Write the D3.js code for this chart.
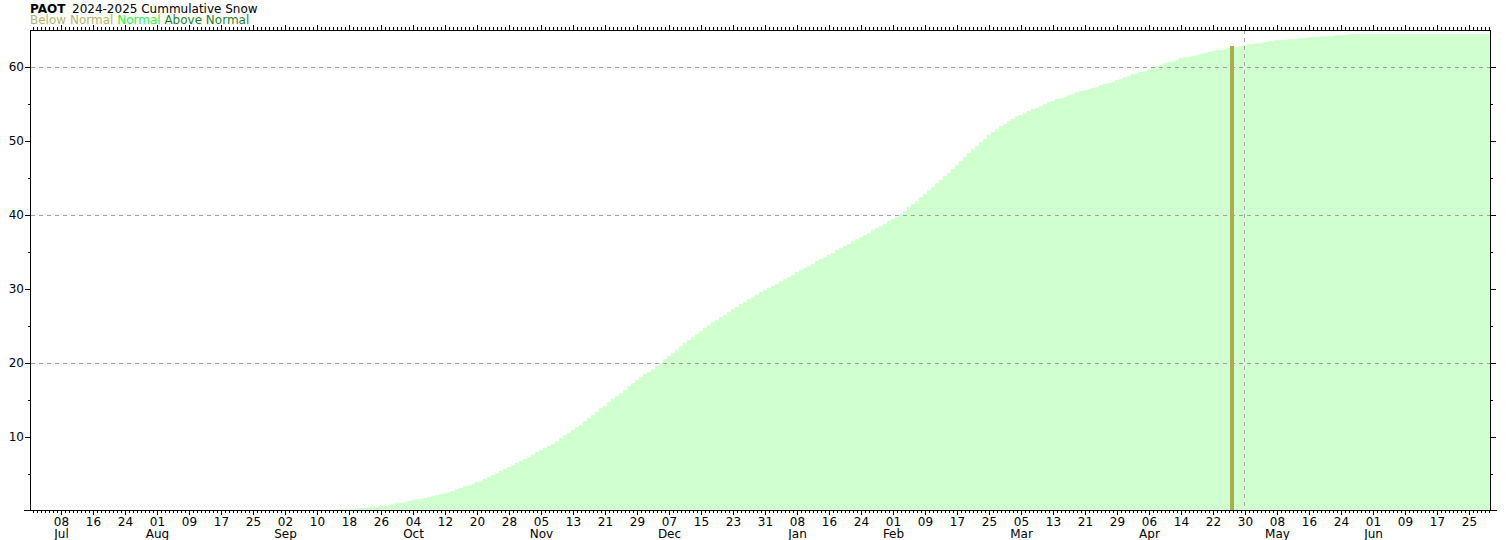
<!DOCTYPE html>
<html><head><meta charset="utf-8">
<script src="https://cdn.jsdelivr.net/npm/d3@7"></script>
<style>
body{margin:0;background:#fff}
svg{display:block}
text{font-family:"DejaVu Sans",sans-serif}
</style>
</head><body>
<svg id="chart" width="1506" height="540"></svg>
<script>
// ---------- data ----------
const station = "PAOT";
const titleText = "2024-2025 Cummulative Snow";
const legendLabels = ["Below Normal", "Normal", "Above Normal"];
const legendColors = ["#b4b46a", "#33f033", "#1f7f1f"];
const seasonStart = "2024-07-01";
const seasonEnd = "2025-07-01";

// daily cumulative normal snowfall, one array per month
const normJul = [0,0,0,0,0,0,0,0,0,0,0,0,0,0,0,0,0,0,0,0,0,0,0,0,0,0,0,0,0,0,0];
const normAug = [0,0,0,0,0,0,0,0,0,0,0,0,0,0,0,0,0,0,0,0,0,0,0,0,0,0,0,0,0,0,0];
const normSep = [0,0,0,0,0,0,0,0,0,0.03,0.05,0.07,0.09,0.11,0.13,0.15,0.18,0.2,0.24,0.28,
                 0.32,0.36,0.41,0.46,0.52,0.58,0.67,0.76,0.85,0.95];
const normOct = [1.05,1.15,1.26,1.37,1.5,1.62,1.75,1.88,2.0,2.12,2.25,2.38,2.5,2.68,2.86,3.05,
                 3.25,3.45,3.65,3.85,4.05,4.3,4.55,4.8,5.1,5.35,5.6,5.9,6.15,6.45,6.7];
const normNov = [7.0,7.3,7.55,7.85,8.15,8.4,8.7,9.05,9.4,9.8,10.15,10.5,10.9,11.25,11.6,12.05,
                 12.5,12.9,13.35,13.8,14.2,14.65,15.1,15.5,15.95,16.35,16.8,17.2,17.6,18.0];
const normDec = [18.4,18.8,19.2,19.6,20.0,20.45,20.9,21.3,21.75,22.2,22.6,23.05,23.5,23.9,24.3,24.7,
                 25.1,25.45,25.8,26.15,26.5,26.85,27.2,27.55,27.9,28.25,28.6,28.9,29.2,29.5,29.8];
const normJan = [30.1,30.4,30.7,31.0,31.3,31.6,31.9,32.2,32.5,32.8,33.1,33.4,33.7,34.0,34.3,34.6,
                 34.9,35.2,35.5,35.8,36.1,36.4,36.7,37.0,37.3,37.6,37.9,38.2,38.5,38.8,39.1];
const normFeb = [39.4,39.75,40.1,40.55,41.0,41.45,41.9,42.4,42.85,43.3,43.8,44.3,44.75,45.2,45.7,
                 46.2,46.75,47.25,47.8,48.3,48.85,49.35,49.9,50.3,50.75,51.15,51.6,51.95];
const normMar = [52.3,52.65,53.0,53.3,53.55,53.8,54.05,54.3,54.5,54.75,54.95,55.2,55.4,55.6,55.8,
                 56.0,56.2,56.35,56.55,56.75,56.9,57.05,57.2,57.35,57.5,57.65,57.85,58.0,58.2,58.4,58.6];
const normApr = [58.8,59.0,59.15,59.35,59.5,59.7,59.9,60.1,60.3,60.5,60.65,60.85,61.0,61.15,61.3,
                 61.4,61.5,61.65,61.75,61.85,62.0,62.1,62.25,62.35,62.45,62.55,62.65,62.75,62.85,62.95];
const normMay = [63.1,63.15,63.2,63.3,63.35,63.45,63.5,63.6,63.65,63.7,63.75,63.8,63.85,63.9,63.95,
                 64.0,64.05,64.1,64.15,64.2,64.2,64.25,64.3,64.3,64.35,64.4,64.4,64.4,64.4,64.4,64.4];
const normJun = [64.4,64.4,64.4,64.4,64.4,64.4,64.4,64.45,64.45,64.45,64.45,64.45,64.45,64.45,64.45,
                 64.45,64.45,64.45,64.45,64.45,64.45,64.45,64.45,64.45,64.45,64.45,64.45,64.45,64.45,64.45];

// observed cumulative snow (one bar) and the current-date marker
const observedDates = ["2025-04-27"];
const observedValues = [62.8];
const currentDate = "2025-04-30";

const tickDates = ["2024-07-08","2024-07-16","2024-07-24","2024-08-01","2024-08-09","2024-08-17","2024-08-25",
  "2024-09-02","2024-09-10","2024-09-18","2024-09-26","2024-10-04","2024-10-12","2024-10-20","2024-10-28",
  "2024-11-05","2024-11-13","2024-11-21","2024-11-29","2024-12-07","2024-12-15","2024-12-23","2024-12-31",
  "2025-01-08","2025-01-16","2025-01-24","2025-02-01","2025-02-09","2025-02-17","2025-02-25",
  "2025-03-05","2025-03-13","2025-03-21","2025-03-29","2025-04-06","2025-04-14","2025-04-22","2025-04-30",
  "2025-05-08","2025-05-16","2025-05-24","2025-06-01","2025-06-09","2025-06-17","2025-06-25"];
const yLabelTicks = [10,20,30,40,50,60];
const yMinorTicks = [5,15,25,35,45,55];
const gridValues = [20,40,60];

// ---------- drawing ----------
const svg = d3.select("#chart");
const parse = d3.utcParse("%Y-%m-%d");
const t0 = parse(seasonStart), t1 = parse(seasonEnd);
const L = 31, R = 1491, TOP = 30, BOT = 510.5;
const x = d3.scaleUtc().domain([t0, t1]).range([L, R]);
const y = d3.scaleLinear().domain([0, 65]).range([BOT, TOP]);
const days = d3.utcDay.range(t0, t1);
const normal = [].concat(normJul, normAug, normSep, normOct, normNov, normDec,
                         normJan, normFeb, normMar, normApr, normMay, normJun);
const mid = d => d3.utcHour.offset(d, 12);

// bars
svg.append("g").selectAll("rect").data(days).join("rect")
  .attr("x", d => x(d))
  .attr("width", d => x(d3.utcDay.offset(d, 1)) - x(d))
  .attr("y", (d, i) => y(normal[i]))
  .attr("height", (d, i) => y(0) - y(normal[i]))
  .attr("fill", "#d0ffd0")
  .attr("shape-rendering", "crispEdges");

// grid
svg.append("g").selectAll("line").data(gridValues).join("line")
  .attr("x1", L).attr("x2", R - 1)
  .attr("y1", d => Math.round(y(d)) + 0.5).attr("y2", d => Math.round(y(d)) + 0.5)
  .attr("stroke", "#a0a0a0").attr("stroke-dasharray", "4,4");

// current-date marker
const cd = parse(currentDate);
const cx = Math.round(x(mid(cd))) - 0.5;
svg.append("line").attr("x1", cx).attr("x2", cx).attr("y1", TOP).attr("y2", BOT)
  .attr("stroke", "#a0a0a0").attr("stroke-dasharray", "4,4");

// observed bar
svg.append("g").selectAll("rect").data(observedDates).join("rect")
  .attr("x", d => x(parse(d)) - 1)
  .attr("width", d => x(d3.utcDay.offset(parse(d), 1)) - x(parse(d)))
  .attr("y", (d, i) => y(observedValues[i]))
  .attr("height", (d, i) => y(0) - y(observedValues[i]))
  .attr("fill", "#aaad4a")
  .attr("shape-rendering", "crispEdges");

// axes
function style(g) {
  g.select(".domain").remove();
  g.selectAll("line").attr("stroke", "#000").attr("shape-rendering", "crispEdges");
  g.selectAll("text").attr("font-family", "DejaVu Sans, sans-serif").attr("font-size", 12).attr("fill", "#000");
}
const majorMid = tickDates.map(s => mid(parse(s)));
// bottom
svg.append("g").attr("transform", `translate(0,${BOT - 0.5})`)
  .call(d3.axisBottom(x).tickValues(days.map(mid)).tickSize(3).tickFormat("")).call(style);
svg.append("g").attr("transform", `translate(0,${BOT - 0.5})`)
  .call(d3.axisBottom(x).tickValues(majorMid).tickSize(5).tickPadding(2).tickFormat(d3.utcFormat("%d"))).call(style);
// month labels under first tick of each month
const fmtM = d3.utcFormat("%b");
svg.append("g").selectAll("text")
  .data(majorMid.filter((d, i) => i === 0 || d.getUTCMonth() !== majorMid[i - 1].getUTCMonth()))
  .join("text")
  .attr("x", d => Math.round(x(d)) + 0.5).attr("y", 538)
  .attr("text-anchor", "middle").attr("font-size", 12).text(d => fmtM(d));
// top
svg.append("g").attr("transform", `translate(0,${TOP})`)
  .call(d3.axisTop(x).tickValues(days.map(mid)).tickSize(3).tickFormat("")).call(style);
svg.append("g").attr("transform", `translate(0,${TOP})`)
  .call(d3.axisTop(x).tickValues(majorMid).tickSize(5).tickFormat("")).call(style);
// left
svg.append("g").attr("transform", `translate(${L},0)`)
  .call(d3.axisLeft(y).tickValues(yLabelTicks).tickSize(6).tickPadding(1)).call(style);
svg.append("g").attr("transform", `translate(${L},0)`)
  .call(d3.axisLeft(y).tickValues(yMinorTicks).tickSize(3).tickFormat("")).call(style);
// right
svg.append("g").attr("transform", `translate(${R - 1},0)`)
  .call(d3.axisRight(y).tickValues(yLabelTicks).tickSize(6).tickFormat("")).call(style);
svg.append("g").attr("transform", `translate(${R - 1},0)`)
  .call(d3.axisRight(y).tickValues(yMinorTicks).tickSize(3).tickFormat("")).call(style);

// frame
const frame = svg.append("g").attr("stroke", "#000").attr("shape-rendering", "crispEdges");
frame.append("line").attr("x1", 24).attr("x2", 1497).attr("y1", BOT).attr("y2", BOT);
frame.append("line").attr("x1", L - 1).attr("x2", R - 1).attr("y1", TOP + 0.5).attr("y2", TOP + 0.5);
frame.append("line").attr("x1", L - 0.5).attr("x2", L - 0.5).attr("y1", TOP).attr("y2", BOT);
frame.append("line").attr("x1", R - 0.5).attr("x2", R - 0.5).attr("y1", TOP).attr("y2", BOT);

// title + legend
svg.append("text").attr("x", 30).attr("y", 13).attr("font-size", 12).attr("font-weight", "bold").text(station);
svg.append("text").attr("x", 72).attr("y", 13).attr("font-size", 12).text(titleText);
const leg = svg.append("text").attr("x", 30).attr("y", 24).attr("font-size", 12);
legendLabels.forEach((l, i) => {
  leg.append("tspan").attr("fill", legendColors[i]).text((i ? " " : "") + l);
});
</script>
</body></html>
